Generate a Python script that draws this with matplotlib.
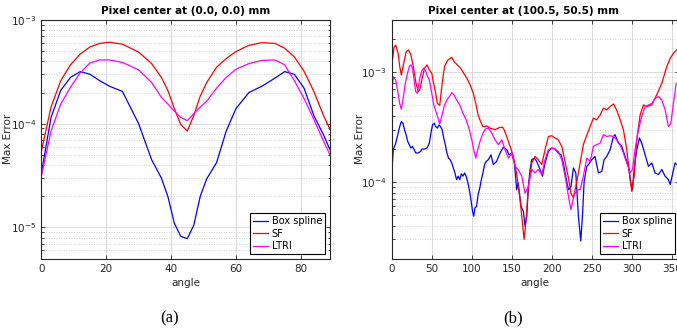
import numpy as np
import matplotlib
matplotlib.use("Agg")
from matplotlib import pyplot as plt

# (a) pixel center at (0.0, 0.0)
ang_a = [0, 3, 6, 9, 12, 15, 18, 21, 25, 30, 34, 37, 39, 41, 43, 45,
         47, 49, 51, 54, 57, 60, 64, 68, 72, 75, 78, 81, 84, 87, 89]
box_a = [3.3e-5, 1.15e-4, 2.1e-4, 2.8e-4, 3.18e-4, 3.0e-4, 2.6e-4, 2.3e-4, 2.05e-4, 1.0e-4,
         4.5e-5, 3.0e-5, 2.0e-5, 1.1e-5, 8.2e-6, 7.8e-6, 1.05e-5, 2.0e-5, 2.95e-5, 4.2e-5,
         8.5e-5, 1.4e-4, 2.0e-4, 2.3e-4, 2.75e-4, 3.18e-4, 3.0e-4, 2.2e-4, 1.2e-4, 7.8e-5, 5.6e-5]
sf_a = [5.4e-5, 1.45e-4, 2.6e-4, 3.7e-4, 4.7e-4, 5.5e-4, 5.95e-4, 6.1e-4, 5.85e-4, 4.9e-4,
        3.8e-4, 2.8e-4, 2.1e-4, 1.4e-4, 9.8e-5, 8.5e-5, 1.2e-4, 1.85e-4, 2.5e-4, 3.5e-4,
        4.25e-4, 4.96e-4, 5.7e-4, 6.05e-4, 5.95e-4, 5.35e-4, 4.4e-4, 3.2e-4, 2.05e-4, 1.2e-4, 8.8e-5]
ltri_a = [3.1e-5, 8.5e-5, 1.55e-4, 2.25e-4, 3.1e-4, 3.85e-4, 4.12e-4, 4.12e-4, 3.9e-4, 3.3e-4,
          2.5e-4, 1.8e-4, 1.55e-4, 1.32e-4, 1.15e-4, 1.07e-4, 1.25e-4, 1.45e-4, 1.65e-4, 2.2e-4,
          2.8e-4, 3.35e-4, 3.8e-4, 4.08e-4, 4.12e-4, 3.7e-4, 2.6e-4, 1.75e-4, 1.1e-4, 6.8e-5, 5.0e-5]

# (b) pixel center at (100.5, 50.5)
ang_box_b = [0, 2, 5, 8, 10, 12, 14, 16, 18, 20, 22, 24, 26, 28, 30, 33, 36, 38, 41, 44,
             47, 49, 51, 53, 55, 57, 59, 61, 63, 65, 67, 69, 71, 73, 75, 77, 79, 81, 83, 85,
             87, 89, 91, 93, 95, 97, 99, 101, 102.5, 104, 106, 108, 110, 112, 114, 116, 118,
             120.8, 124, 127, 131, 135.4, 139.5, 143.7, 146.6, 150, 153.3, 156.2, 158, 161.6,
             164.5, 166.6, 168.7, 170.8, 172.9, 175, 178.3, 181.2, 185.4, 188.3, 191.6, 195.8,
             200, 204, 208, 211.6, 214.5, 217.4, 220.8, 224, 227, 230, 233.3, 236.2, 238.3,
             240.4, 243.7, 245.8, 250, 254, 258.3, 262.5, 265.4, 268.7, 272.9, 277, 279,
             283.3, 287.5, 291.6, 295.8, 298.7, 300.8, 303.3, 306.2, 309.5, 312.4, 316.6,
             320.8, 325, 329, 333.3, 337.5, 341.6, 345.8, 348, 351.2, 354, 356]
box_b = [1.21e-4, 1.97e-4, 2.26e-4, 2.79e-4, 3.2e-4, 3.56e-4, 3.44e-4, 3.0e-4, 2.7e-4, 2.34e-4,
         2.19e-4, 2.04e-4, 2.11e-4, 1.97e-4, 1.84e-4, 1.84e-4, 1.9e-4, 2.0e-4, 2.0e-4, 2.04e-4,
         2.26e-4, 2.79e-4, 3.32e-4, 3.44e-4, 3.2e-4, 3.1e-4, 3.32e-4, 3.2e-4, 3.0e-4, 2.52e-4,
         2.19e-4, 1.84e-4, 1.65e-4, 1.6e-4, 1.49e-4, 1.34e-4, 1.21e-4, 1.05e-4, 1.13e-4, 1.05e-4,
         1.19e-4, 1.13e-4, 1.21e-4, 1.13e-4, 1.0e-4, 8.5e-5, 6.9e-5, 5.4e-5, 4.88e-5, 5.8e-5,
         6.0e-5, 7.7e-5, 8.8e-5, 1.05e-4, 1.21e-4, 1.44e-4, 1.54e-4,
         1.6e-4, 1.77e-4, 1.44e-4, 1.54e-4, 1.84e-4, 2.08e-4, 1.97e-4, 1.77e-4,
         1.84e-4, 1.49e-4, 8.5e-5, 9.8e-5, 6.0e-5,
         5.4e-5, 3.95e-5, 4.88e-5, 9.1e-5, 1.3e-4, 1.6e-4, 1.65e-4, 1.54e-4, 1.3e-4, 1.13e-4,
         1.49e-4, 1.9e-4, 2.04e-4, 2.0e-4, 1.84e-4, 1.77e-4, 1.49e-4, 1.13e-4, 8.5e-5, 9.1e-5,
         1.34e-4, 1.21e-4, 4.88e-5, 2.9e-5, 4.88e-5,
         1.0e-4, 1.39e-4, 1.44e-4, 1.6e-4, 1.71e-4, 1.21e-4, 1.25e-4, 1.6e-4, 1.71e-4, 1.97e-4,
         2.6e-4, 2.7e-4, 2.26e-4, 2.11e-4, 1.71e-4, 1.39e-4, 9.8e-5, 8.5e-5, 1.39e-4, 1.97e-4,
         2.52e-4, 2.26e-4, 1.77e-4, 1.39e-4, 1.49e-4, 1.21e-4, 1.17e-4, 1.3e-4, 1.13e-4,
         1.05e-4, 9.5e-5, 1.21e-4, 1.49e-4, 1.45e-4]

ang_sf_b = [0, 3, 5, 8, 10, 12, 15, 18, 21, 24, 27, 30, 33, 35, 38, 41, 44, 47, 50, 52, 55,
            57, 60, 63, 66, 70, 75, 78, 82, 86, 90, 94, 98, 102, 105, 108, 111, 114, 117,
            118.7, 123, 129, 135, 137.5, 139.5, 143.7, 147.9, 152, 156, 160.4, 163.3, 165.4,
            167.9, 170.8, 175, 179, 183, 187.5, 191.6, 195.8, 200, 204, 208, 212.5, 216.6,
            220.8, 224, 227, 231, 235.4, 239.5, 241.6, 247.9, 252, 256, 260.4, 264.5, 268.7,
            272.9, 277, 281, 285.4, 289.5, 293.7, 297, 300, 302.9, 306.2, 310.4, 314.5, 318.7,
            325, 331, 337.5, 343.7, 347.9, 352, 356]
sf_b = [1.13e-3, 1.71e-3, 1.77e-3, 1.49e-3, 1.13e-3, 9.46e-4, 1.21e-3, 1.54e-3, 1.6e-3, 1.44e-3,
        1.13e-3, 8.2e-4, 6.67e-4, 6.9e-4, 8.8e-4, 1.09e-3, 1.17e-3, 1.05e-3, 9.8e-4, 8.2e-4,
        6.44e-4, 5.22e-4, 5.0e-4, 7.9e-4, 1.13e-3, 1.29e-3, 1.37e-3, 1.25e-3, 1.17e-3, 1.09e-3,
        9.8e-4, 8.8e-4, 7.67e-4, 6.44e-4, 5.2e-4, 4.09e-4, 3.56e-4, 3.2e-4, 3.2e-4,
        3.25e-4, 3.1e-4, 3.0e-4, 3.14e-4, 3.16e-4, 3.1e-4, 2.6e-4, 2.11e-4, 1.71e-4, 1.21e-4,
        6.9e-5, 4.24e-5, 3.0e-5, 4.5e-5, 9.1e-5, 1.49e-4, 1.71e-4, 1.6e-4, 1.44e-4, 1.97e-4,
        2.6e-4, 2.64e-4, 2.52e-4, 2.43e-4, 2.11e-4, 1.54e-4, 1.09e-4, 7.9e-5, 7.2e-5, 9.8e-5,
        1.49e-4, 2.19e-4, 2.43e-4, 3.2e-4, 3.82e-4, 3.69e-4, 4.09e-4, 4.71e-4, 4.55e-4, 4.87e-4,
        5.15e-4, 4.55e-4, 3.69e-4, 3.0e-4, 1.97e-4, 1.21e-4, 8.2e-5, 1.13e-4, 2.43e-4, 4.09e-4,
        5.05e-4, 4.87e-4, 5.05e-4, 6.22e-4, 7.94e-4, 1.13e-3, 1.34e-3, 1.49e-3, 1.6e-3]

ang_ltri_b = [0, 2, 5, 8, 10, 12, 14, 17, 20, 22, 24, 26, 28, 30, 32, 35, 38, 40, 42, 44, 47,
              50, 53, 56, 60, 63, 66, 69, 72, 75, 78, 81, 85, 89, 93, 97, 100, 103, 105, 108,
              111, 114, 117, 120.8, 125, 129, 133.3, 137.5, 141.6, 145.8, 150, 154, 158, 162.5,
              166.6, 170.8, 175, 179, 183, 187.5, 191.6, 195.8, 200, 204, 208, 212.5, 216.6,
              220.8, 224, 228, 233, 235.4, 239.5, 243.7, 247.9, 252, 256, 260.4, 264.5, 268.7,
              272.9, 277, 281, 285.4, 289.5, 293.7, 297.9, 300.8, 304, 308.3, 312.4, 316.6,
              320.8, 325, 329, 333.3, 337.5, 341.6, 345.8, 348.7, 352, 355.4]
ltri_b = [6.67e-4, 9.1e-4, 8.5e-4, 6.44e-4, 5.2e-4, 4.61e-4, 5.6e-4, 7.94e-4, 1.0e-3, 1.13e-3,
          1.17e-3, 1.09e-3, 8.5e-4, 6.67e-4, 6.44e-4, 8.8e-4, 1.05e-3, 1.09e-3, 1.05e-3, 9.46e-4,
          8.5e-4, 6.44e-4, 4.88e-4, 4.24e-4, 3.4e-4, 4.09e-4, 5.05e-4, 5.6e-4, 6.0e-4, 6.53e-4,
          6.2e-4, 5.6e-4, 5.05e-4, 4.24e-4, 3.69e-4, 3.0e-4, 2.43e-4, 1.9e-4, 1.65e-4, 2.04e-4,
          2.43e-4, 2.79e-4, 3.04e-4, 3.1e-4, 2.79e-4, 2.43e-4, 2.19e-4, 2.43e-4, 1.97e-4, 1.65e-4,
          1.84e-4, 1.39e-4, 1.3e-4, 1.13e-4, 7.9e-5, 9.1e-5, 1.3e-4, 1.21e-4, 1.3e-4, 1.17e-4,
          1.6e-4, 1.97e-4, 2.04e-4, 2.0e-4, 1.9e-4, 1.6e-4, 1.13e-4, 7.4e-5, 5.6e-5, 7.7e-5,
          8.5e-5, 8.5e-5, 1.13e-4, 1.65e-4, 1.54e-4, 2.11e-4, 2.19e-4, 2.26e-4, 2.7e-4, 2.6e-4,
          2.64e-4, 2.6e-4, 2.43e-4, 2.19e-4, 1.84e-4, 1.49e-4, 1.21e-4, 1.3e-4, 1.97e-4, 3.0e-4,
          3.95e-4, 4.87e-4, 5.05e-4, 5.2e-4, 5.8e-4, 6.0e-4, 5.6e-4, 4.55e-4, 3.2e-4, 3.4e-4,
          5.2e-4, 7.9e-4]

labels = ["Box spline", "SF", "LTRI"]
colors = ["#0000ff", "#ff0000", "#ff00ff"]
txt = "#262626"

plt.rcParams["font.family"] = ["DejaVu Sans"]
plt.rcParams["mathtext.fontset"] = "dejavusans"

fig = plt.figure(figsize=(6.77, 3.35), dpi=100)
ax1 = fig.add_axes([0.061, 0.2278, 0.4265, 0.7125])
ax2 = fig.add_axes([0.5786, 0.2278, 0.4244, 0.7125])


def style(ax, xlim, ylim, xticks, title, ylab_x):
    ax.set_yscale("log")
    ax.set_xlim(*xlim)
    ax.set_ylim(*ylim)
    ax.set_xticks(xticks)
    ax.grid(True, which="major", color="#dcdcdc", lw=0.8, ls="-")
    ax.grid(True, which="minor", axis="y", color="#c8c8c8", lw=0.6, ls=(0, (1, 2)))
    ax.set_axisbelow(True)
    ax.tick_params(which="both", direction="in", top=True, right=True,
                   colors=txt, labelsize=7.5, width=0.6)
    ax.tick_params(which="major", length=3)
    ax.tick_params(which="minor", length=1.8)
    ax.tick_params(axis="x", which="minor", bottom=False, top=False)
    for s in ax.spines.values():
        s.set_color(txt)
        s.set_linewidth(0.8)
    ax.set_xlabel("angle", fontsize=7.5, color=txt, labelpad=3)
    ax.set_ylabel("Max Error", fontsize=7.5, color=txt)
    ax.yaxis.set_label_coords(ylab_x, 0.5)
    ax.set_title(title, fontsize=7.5, fontweight="bold", color="black", pad=4)


ax1.plot(ang_a, box_a, color=colors[0], lw=0.9, label=labels[0])
ax1.plot(ang_a, sf_a, color=colors[1], lw=0.9, label=labels[1])
ax1.plot(ang_a, ltri_a, color=colors[2], lw=0.9, label=labels[2])
style(ax1, (0, 89), (5e-6, 1e-3), [0, 20, 40, 60, 80],
      "Pixel center at (0.0, 0.0) mm", -0.098)

ax2.plot(ang_box_b, box_b, color=colors[0], lw=0.9, label=labels[0])
ax2.plot(ang_sf_b, sf_b, color=colors[1], lw=0.9, label=labels[1])
ax2.plot(ang_ltri_b, ltri_b, color=colors[2], lw=0.9, label=labels[2])
style(ax2, (0, 359), (2e-5, 3e-3), [0, 50, 100, 150, 200, 250, 300, 350],
      "Pixel center at (100.5, 50.5) mm", -0.093)
ax2.title.set_position((0.46, 1.0))

for ax, anchor in [(ax1, (0.983, 0.02)), (ax2, (0.986, 0.02))]:
    leg = ax.legend(loc="lower right", bbox_to_anchor=anchor, fontsize=7,
                    fancybox=False, framealpha=1, edgecolor="black",
                    handlelength=1.6, handletextpad=0.35, labelspacing=0.25,
                    borderpad=0.3, borderaxespad=0)
    leg.get_frame().set_linewidth(0.8)

fig.text(0.2511, 0.05, "(a)", ha="center", va="center", fontsize=12,
         family="Liberation Serif")
fig.text(0.758, 0.05, "(b)", ha="center", va="center", fontsize=12,
         family="Liberation Serif")

fig.savefig("out.png", dpi=100)
